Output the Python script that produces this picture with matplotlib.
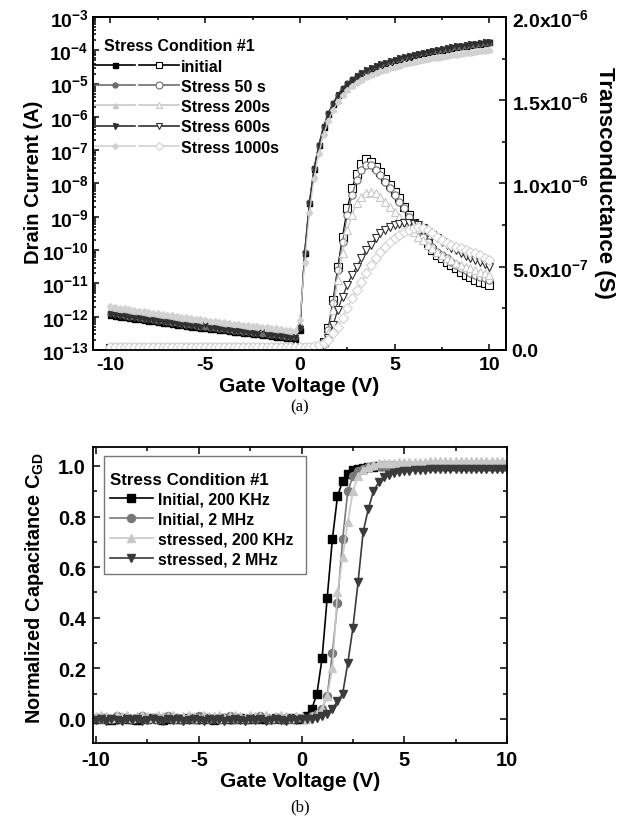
import matplotlib
matplotlib.use('Agg')
import matplotlib.pyplot as plt
import numpy as np
from matplotlib.legend_handler import HandlerTuple
from matplotlib.lines import Line2D
from matplotlib.patches import Rectangle
from matplotlib.ticker import MultipleLocator, LogLocator, FuncFormatter, NullFormatter

plt.rcParams['font.family'] = ['Liberation Sans', 'DejaVu Sans']
plt.rcParams['font.weight'] = 'bold'
plt.rcParams['mathtext.fontset'] = 'custom'
plt.rcParams['mathtext.rm'] = 'Liberation Sans:bold'
plt.rcParams['mathtext.bf'] = 'Liberation Sans:bold'
plt.rcParams['mathtext.it'] = 'Liberation Sans:bold'
plt.rcParams['mathtext.sf'] = 'Liberation Sans:bold'
plt.rcParams['mathtext.default'] = 'bf'
plt.rcParams['axes.unicode_minus'] = False

# ---------------- data ----------------
VG = [-10.0, -9.75, -9.5, -9.25, -9.0, -8.75, -8.5, -8.25, -8.0, -7.75,
      -7.5, -7.25, -7.0, -6.75, -6.5, -6.25, -6.0, -5.75, -5.5, -5.25,
      -5.0, -4.75, -4.5, -4.25, -4.0, -3.75, -3.5, -3.25, -3.0, -2.75,
      -2.5, -2.25, -2.0, -1.75, -1.5, -1.25, -1.0, -0.75, -0.5, -0.25,
      0.0, 0.25, 0.5, 0.75, 1.0, 1.25, 1.5, 1.75, 2.0, 2.25,
      2.5, 2.75, 3.0, 3.25, 3.5, 3.75, 4.0, 4.25, 4.5, 4.75,
      5.0, 5.25, 5.5, 5.75, 6.0, 6.25, 6.5, 6.75, 7.0, 7.25,
      7.5, 7.75, 8.0, 8.25, 8.5, 8.75, 9.0, 9.25, 9.5, 9.75, 10.0]

# log10 of drain current (A)
LOG_ID_INITIAL = [-11.95, -11.97, -12.00, -12.02, -12.03, -12.06, -12.08, -12.10, -12.12, -12.13,
                  -12.16, -12.18, -12.20, -12.21, -12.24, -12.25, -12.27, -12.30, -12.31, -12.33,
                  -12.35, -12.36, -12.38, -12.40, -12.41, -12.43, -12.45, -12.46, -12.48, -12.50,
                  -12.51, -12.53, -12.55, -12.56, -12.58, -12.60, -12.61, -12.63, -12.64, -12.66,
                  -12.40, -10.10, -8.60, -7.55, -6.85, -6.30, -5.90, -5.60, -5.35, -5.15,
                  -5.00, -4.88, -4.78, -4.69, -4.62, -4.55, -4.49, -4.44, -4.39, -4.34,
                  -4.30, -4.26, -4.22, -4.19, -4.15, -4.12, -4.09, -4.06, -4.03, -4.00,
                  -3.98, -3.95, -3.93, -3.90, -3.88, -3.86, -3.84, -3.82, -3.80, -3.78, -3.76]
LOG_ID_50S = [-11.90, -11.93, -11.95, -11.98, -12.00, -12.02, -12.04, -12.07, -12.08, -12.11,
              -12.13, -12.14, -12.17, -12.19, -12.20, -12.23, -12.25, -12.26, -12.28, -12.30,
              -12.31, -12.34, -12.35, -12.37, -12.38, -12.41, -12.42, -12.44, -12.45, -12.47,
              -12.49, -12.50, -12.52, -12.53, -12.55, -12.56, -12.58, -12.60, -12.61, -12.62,
              -12.30, -10.05, -8.55, -7.52, -6.83, -6.28, -5.89, -5.59, -5.34, -5.14,
              -4.99, -4.87, -4.77, -4.68, -4.61, -4.54, -4.48, -4.43, -4.38, -4.34,
              -4.30, -4.26, -4.22, -4.18, -4.15, -4.12, -4.09, -4.06, -4.03, -4.01,
              -3.98, -3.96, -3.93, -3.91, -3.89, -3.87, -3.85, -3.83, -3.81, -3.79, -3.77]
LOG_ID_200S = [-11.72, -11.75, -11.77, -11.80, -11.82, -11.84, -11.87, -11.88, -11.91, -11.93,
               -11.95, -11.97, -11.99, -12.01, -12.03, -12.05, -12.07, -12.09, -12.11, -12.13,
               -12.15, -12.16, -12.18, -12.20, -12.22, -12.23, -12.25, -12.27, -12.28, -12.30,
               -12.32, -12.33, -12.35, -12.36, -12.38, -12.40, -12.41, -12.43, -12.44, -12.46,
               -12.20, -10.30, -8.80, -7.75, -7.02, -6.46, -6.05, -5.75, -5.50, -5.30,
               -5.15, -5.03, -4.93, -4.85, -4.78, -4.71, -4.65, -4.60, -4.55, -4.51,
               -4.47, -4.43, -4.39, -4.36, -4.33, -4.30, -4.27, -4.24, -4.21, -4.19,
               -4.16, -4.14, -4.12, -4.10, -4.08, -4.06, -4.04, -4.02, -4.00, -3.98, -3.96]
LOG_ID_600S = [-11.92, -11.95, -11.97, -11.99, -12.01, -12.03, -12.05, -12.08, -12.09, -12.11,
               -12.14, -12.15, -12.17, -12.20, -12.21, -12.24, -12.25, -12.27, -12.29, -12.31,
               -12.22, -12.34, -12.35, -12.38, -12.39, -12.41, -12.43, -12.44, -12.46, -12.48,
               -12.49, -12.52, -12.36, -12.55, -12.56, -12.58, -12.59, -12.61, -12.63, -12.62,
               -12.35, -10.12, -8.62, -7.57, -6.86, -6.31, -5.91, -5.60, -5.35, -5.15,
               -5.00, -4.88, -4.77, -4.68, -4.60, -4.53, -4.47, -4.42, -4.37, -4.32,
               -4.28, -4.24, -4.20, -4.17, -4.13, -4.10, -4.07, -4.04, -4.01, -3.98,
               -3.96, -3.93, -3.91, -3.88, -3.86, -3.84, -3.82, -3.80, -3.78, -3.76, -3.74]
LOG_ID_1000S = [-11.68, -11.70, -11.73, -11.75, -11.77, -11.80, -11.82, -11.84, -11.86, -11.88,
                -11.90, -11.92, -11.94, -11.96, -11.98, -12.00, -12.02, -12.04, -12.06, -12.08,
                -12.10, -12.12, -12.13, -12.15, -12.17, -12.19, -12.21, -12.22, -12.24, -12.26,
                -12.27, -12.29, -12.31, -12.32, -12.34, -12.35, -12.37, -12.39, -12.40, -12.42,
                -12.10, -10.40, -8.90, -7.85, -7.10, -6.53, -6.12, -5.80, -5.55, -5.35,
                -5.19, -5.07, -4.97, -4.88, -4.81, -4.74, -4.68, -4.63, -4.58, -4.54,
                -4.50, -4.46, -4.42, -4.39, -4.36, -4.33, -4.30, -4.27, -4.24, -4.22,
                -4.19, -4.17, -4.15, -4.13, -4.11, -4.09, -4.07, -4.05, -4.03, -4.01, -3.99]

# transconductance in micro-siemens
GM_INITIAL = [0.01, 0.01, 0.01, 0.01, 0.01, 0.01, 0.01, 0.01, 0.01, 0.01,
              0.01, 0.01, 0.01, 0.01, 0.01, 0.01, 0.01, 0.01, 0.01, 0.01,
              0.01, 0.01, 0.01, 0.01, 0.01, 0.01, 0.01, 0.01, 0.01, 0.01,
              0.01, 0.01, 0.01, 0.01, 0.01, 0.01, 0.01, 0.01, 0.01, 0.01,
              0.01, 0.01, 0.01, 0.015,
              0.02, 0.05, 0.13, 0.30, 0.50, 0.68, 0.85, 0.97, 1.06, 1.12,
              1.15, 1.13, 1.10, 1.07, 1.03, 0.99, 0.95, 0.91, 0.86, 0.81,
              0.76, 0.72, 0.68, 0.64, 0.60, 0.57, 0.55, 0.53, 0.51, 0.49,
              0.47, 0.45, 0.44, 0.42, 0.41, 0.40, 0.39]
GM_50S = [0.012, 0.012, 0.012, 0.012, 0.012, 0.012, 0.012, 0.012, 0.012, 0.012,
          0.012, 0.012, 0.012, 0.012, 0.012, 0.012, 0.012, 0.012, 0.012, 0.012,
          0.012, 0.012, 0.012, 0.012, 0.012, 0.012, 0.012, 0.012, 0.012, 0.012,
          0.012, 0.012, 0.012, 0.012, 0.012, 0.012, 0.012, 0.012, 0.012, 0.012,
          0.012, 0.012, 0.012, 0.015,
          0.02, 0.05, 0.12, 0.28, 0.48, 0.65, 0.81, 0.93, 1.02, 1.08,
          1.11, 1.11, 1.08, 1.05, 1.01, 0.97, 0.93, 0.89, 0.85, 0.80,
          0.76, 0.72, 0.68, 0.65, 0.62, 0.59, 0.57, 0.55, 0.53, 0.51,
          0.49, 0.48, 0.46, 0.45, 0.44, 0.43, 0.42]
GM_200S = [0.015, 0.015, 0.015, 0.015, 0.015, 0.015, 0.015, 0.015, 0.015, 0.015,
           0.015, 0.015, 0.015, 0.015, 0.015, 0.015, 0.015, 0.015, 0.015, 0.015,
           0.015, 0.015, 0.015, 0.015, 0.015, 0.015, 0.015, 0.015, 0.015, 0.015,
           0.015, 0.015, 0.015, 0.015, 0.015, 0.015, 0.015, 0.015, 0.015, 0.015,
           0.015, 0.015, 0.015, 0.015,
           0.02, 0.04, 0.10, 0.24, 0.42, 0.58, 0.72, 0.81, 0.88, 0.92,
           0.94, 0.95, 0.94, 0.92, 0.89, 0.86, 0.83, 0.80, 0.77, 0.74,
           0.71, 0.68, 0.66, 0.63, 0.61, 0.59, 0.57, 0.55, 0.54, 0.52,
           0.51, 0.50, 0.49, 0.48, 0.47, 0.46, 0.45]
GM_600S = [0.012, 0.012, 0.012, 0.012, 0.012, 0.012, 0.012, 0.012, 0.012, 0.012,
           0.012, 0.012, 0.012, 0.012, 0.012, 0.012, 0.012, 0.012, 0.012, 0.012,
           0.012, 0.012, 0.012, 0.012, 0.012, 0.012, 0.012, 0.012, 0.012, 0.012,
           0.012, 0.012, 0.012, 0.012, 0.012, 0.012, 0.012, 0.012, 0.012, 0.012,
           0.012, 0.012, 0.012, 0.015,
           0.02, 0.03, 0.07, 0.15, 0.24, 0.32, 0.39, 0.45, 0.50, 0.55,
           0.60, 0.63, 0.67, 0.70, 0.72, 0.74, 0.75, 0.755, 0.76, 0.76,
           0.755, 0.75, 0.73, 0.71, 0.69, 0.67, 0.65, 0.63, 0.61, 0.60,
           0.58, 0.565, 0.555, 0.54, 0.53, 0.515, 0.50]
GM_1000S = [0.02, 0.02, 0.02, 0.02, 0.02, 0.02, 0.02, 0.02, 0.02, 0.02,
            0.02, 0.02, 0.02, 0.02, 0.02, 0.02, 0.02, 0.02, 0.02, 0.02,
            0.02, 0.02, 0.02, 0.02, 0.02, 0.02, 0.02, 0.02, 0.02, 0.02,
            0.02, 0.02, 0.02, 0.02, 0.02, 0.02, 0.02, 0.02, 0.02, 0.02,
            0.02, 0.02, 0.02, 0.025,
            0.03, 0.04, 0.06, 0.10, 0.14, 0.19, 0.25, 0.31, 0.36, 0.41,
            0.46, 0.51, 0.55, 0.59, 0.62, 0.65, 0.67, 0.69, 0.71, 0.72,
            0.73, 0.74, 0.73, 0.72, 0.70, 0.68, 0.66, 0.64, 0.63, 0.62,
            0.61, 0.60, 0.59, 0.58, 0.57, 0.555, 0.54]

TOP_LABELS = ['initial', 'Stress 50 s', 'Stress 200s', 'Stress 600s', 'Stress 1000s']

# normalized C_GD
C_INIT_200K = [0.00, 0.005, 0.00, -0.005, 0.00, 0.005, 0.00, 0.00, -0.005, 0.005,
               0.00, 0.005, 0.00, -0.005, 0.00, 0.005, 0.00, 0.00, 0.005, 0.00,
               0.00, 0.005, 0.00, -0.005, 0.00, 0.005, 0.00, 0.00, 0.005, 0.00,
               0.00, 0.005, 0.00, 0.00, 0.00, 0.005, 0.00, 0.00, 0.005, 0.00,
               0.00,
               0.01, 0.04, 0.10, 0.24, 0.48, 0.71, 0.88, 0.94, 0.97, 0.985,
               0.99, 0.993, 0.995, 0.997, 0.998, 1.0, 1.0, 1.0, 1.0, 1.0,
               1.0, 1.0, 1.0, 1.0, 1.0, 1.0, 1.0, 1.0, 1.0, 1.0,
               1.0, 1.0, 1.0, 1.0, 1.0, 1.0, 1.0, 1.0, 1.0, 1.0]
C_INIT_2M = [0.005, 0.00, 0.005, 0.00, 0.01, 0.00, 0.005, 0.00, 0.005, 0.01,
             0.00, 0.005, 0.00, 0.005, 0.01, 0.00, 0.005, 0.00, 0.005, 0.00,
             0.01, 0.005, 0.00, 0.005, 0.00, 0.005, 0.01, 0.00, 0.005, 0.00,
             0.005, 0.00, 0.01, 0.005, 0.00, 0.005, 0.00, 0.005, 0.00, 0.005,
             0.005,
             0.00, 0.01, 0.02, 0.04, 0.09, 0.26, 0.46, 0.71, 0.90, 0.96,
             0.98, 0.99, 0.995, 1.0, 1.0, 1.0, 1.0, 1.0, 1.0, 1.0,
             1.0, 1.0, 1.0, 1.0, 1.0, 1.0, 1.0, 1.0, 1.0, 1.0,
             1.0, 1.0, 1.0, 1.0, 1.0, 1.0, 1.0, 1.0, 1.0, 1.0]
C_STR_200K = [0.01, 0.015, 0.01, 0.005, 0.015, 0.01, 0.015, 0.005, 0.01, 0.015,
              0.01, 0.005, 0.015, 0.01, 0.01, 0.015, 0.005, 0.01, 0.015, 0.01,
              0.005, 0.015, 0.01, 0.01, 0.015, 0.005, 0.01, 0.015, 0.01, 0.005,
              0.015, 0.01, 0.01, 0.015, 0.005, 0.01, 0.015, 0.01, 0.005, 0.01,
              0.01,
              0.00, 0.01, 0.02, 0.04, 0.09, 0.20, 0.50, 0.64, 0.78, 0.90,
              0.96, 0.985, 0.995, 1.005, 1.01, 1.01, 1.012, 1.012, 1.015, 1.015,
              1.015, 1.015, 1.015, 1.015, 1.018, 1.018, 1.018, 1.018, 1.018, 1.018,
              1.02, 1.02, 1.02, 1.02, 1.02, 1.02, 1.02, 1.02, 1.02, 1.02]
C_STR_2M = [-0.005, 0.00, -0.01, 0.00, -0.005, -0.01, 0.00, -0.005, 0.00, -0.01,
            -0.005, 0.00, -0.005, -0.01, 0.00, -0.005, 0.00, -0.01, -0.005, 0.00,
            -0.005, -0.01, 0.00, -0.005, 0.00, -0.01, -0.005, 0.00, -0.005, -0.01,
            0.00, -0.005, 0.00, -0.01, -0.005, 0.00, -0.005, -0.01, 0.00, -0.005,
            0.00,
            0.00, 0.00, 0.005, 0.01, 0.02, 0.04, 0.07, 0.10, 0.22, 0.36,
            0.54, 0.74, 0.83, 0.90, 0.935, 0.955, 0.965, 0.972, 0.977, 0.98,
            0.982, 0.984, 0.985, 0.986, 0.987, 0.988, 0.988, 0.989, 0.989, 0.99,
            0.99, 0.99, 0.99, 0.99, 0.99, 0.99, 0.99, 0.99, 0.99, 0.99]
BOT_LABELS = ['Initial, 200 KHz', 'Initial, 2 MHz', 'stressed, 200 KHz', 'stressed, 2 MHz']

# ---------------- styles ----------------
TOP_COLORS = ['#000000', '#6e6e6e', '#c8c8c8', '#303030', '#d2d2d2']
TOP_MARKERS = ['s', 'o', '^', 'v', 'D']
BOT_COLORS = ['#000000', '#787878', '#c8c8c8', '#3a3a3a']
BOT_MARKERS = ['s', 'o', '^', 'v']

W, H = 633, 820
fig = plt.figure(figsize=(W / 100, H / 100), dpi=100)

def fx(px):
    return px / W

def fy(py):
    return 1 - py / H

# ---------- top panel ----------
axL, axR, axT, axB = 93, 506, 18, 351
ax = fig.add_axes([fx(axL), fy(axB), fx(axR - axL), (axB - axT) / H])
ax2 = ax.twinx()

vg = np.array(VG)
id_sets = [LOG_ID_INITIAL, LOG_ID_50S, LOG_ID_200S, LOG_ID_600S, LOG_ID_1000S]
gm_sets = [GM_INITIAL, GM_50S, GM_200S, GM_600S, GM_1000S]
handles = []
for lid, gm, c, m in zip(id_sets, gm_sets, TOP_COLORS, TOP_MARKERS):
    msz = 3.6 if m != 'D' else 3.0
    ax.plot(vg, 10 ** np.array(lid), color=c, marker=m, ms=msz, mfc=c, mec=c, lw=0.9)
    ax2.plot(vg, np.array(gm) * 1e-6, color=c, marker=m, ms=msz + 1.6, mfc='white',
             mec=c, mew=0.8, lw=0.9)
    h1 = Line2D([], [], color=c, marker=m, ms=msz, mfc=c, mec=c, lw=1.2)
    h2 = Line2D([], [], color=c, marker=m, ms=msz + 1.4, mfc='white', mec=c, mew=0.8, lw=1.2)
    handles.append((h1, h2))

ax.set_yscale('log')
ax.set_ylim(1e-13, 1e-3)
ax.set_xlim(-10.92, 10.88)
ax.xaxis.set_major_locator(MultipleLocator(5))
ax.xaxis.set_minor_locator(MultipleLocator(2.5))
ax.yaxis.set_major_locator(LogLocator(base=10, numticks=20))
ax.yaxis.set_minor_locator(LogLocator(base=10, subs=np.arange(2, 10), numticks=20))
ax.yaxis.set_minor_formatter(NullFormatter())
ax.tick_params(which='both', direction='in', top=True, right=False, labelsize=14, width=1.1)
ax.tick_params(which='major', length=4.5, pad=4)
ax.tick_params(which='minor', length=2.5)
ax.tick_params(axis='y', pad=3)

ax2.set_ylim(0, 2e-6)
ax2.yaxis.set_major_locator(MultipleLocator(0.5e-6))
ax2.yaxis.set_minor_locator(MultipleLocator(0.25e-6))

def gm_fmt(v, pos):
    if abs(v) < 1e-12:
        return '0.0'
    e = int(np.floor(np.log10(abs(v)) + 1e-9))
    mant = v / 10 ** e
    return r'$%.1f\mathrm{x}10^{%d}$' % (mant, e)

ax2.yaxis.set_major_formatter(FuncFormatter(gm_fmt))
ax2.tick_params(which='both', direction='in', labelsize=14, width=1.1, pad=4)
ax2.tick_params(which='major', length=5)
ax2.tick_params(which='minor', length=3)

for a in (ax, ax2):
    for s in a.spines.values():
        s.set_linewidth(1.3)

ax.set_xlabel('Gate Voltage (V)', fontsize=15, fontweight='bold', va='center')
ax.xaxis.set_label_coords(0.5, (axB - 387) / (axB - axT))
ax.set_ylabel('Drain Current (A)', fontsize=14.5, fontweight='bold', va='center')
ax.yaxis.set_label_coords((34 - axL) / (axR - axL), (axB - 182) / (axB - axT))
ax2.set_ylabel('Transconductance (S)', fontsize=16, fontweight='bold', rotation=270, va='center')
ax2.yaxis.set_label_coords((605 - axL) / (axR - axL), (axB - 183) / (axB - axT))

leg = ax.legend(handles, TOP_LABELS, handler_map={tuple: HandlerTuple(ndivide=None, pad=0.3)},
                loc='upper left', bbox_to_anchor=(0.0, 0.941), borderaxespad=0.0,
                borderpad=0.1, frameon=False, handlelength=5.3, handletextpad=0.1,
                labelspacing=0.33, title='  Stress Condition #1', alignment='left',
                prop={'weight': 'bold', 'size': 11.5},
                title_fontproperties={'weight': 'bold', 'size': 11.5})

fig.text(fx(300), fy(407), '(a)', family='Liberation Serif', fontweight='normal',
         fontsize=12, ha='center', va='center')

# ---------- bottom panel ----------
bL, bR, bT, bB = 93, 507, 448, 744
bx = fig.add_axes([fx(bL), fy(bB), fx(bR - bL), (bB - bT) / H])
c_sets = [C_INIT_200K, C_INIT_2M, C_STR_200K, C_STR_2M]
for cv, c, m, lab in zip(c_sets, BOT_COLORS, BOT_MARKERS, BOT_LABELS):
    bx.plot(vg, cv, color=c, marker=m, ms=5.8, mfc=c, mec=c, lw=1.2, label=lab)

bx.set_xlim(-10.15, 10.0)
bx.set_ylim(-0.095, 1.075)
bx.xaxis.set_major_locator(MultipleLocator(5))
bx.xaxis.set_minor_locator(MultipleLocator(2.5))
bx.yaxis.set_major_locator(MultipleLocator(0.2))
bx.yaxis.set_minor_locator(MultipleLocator(0.1))
bx.yaxis.set_major_formatter(FuncFormatter(lambda v, p: '%.1f' % v))
bx.tick_params(which='both', direction='in', top=True, right=True, labelsize=14.5, width=1.1)
bx.tick_params(which='major', length=5, pad=5)
bx.tick_params(which='minor', length=3)
for s in bx.spines.values():
    s.set_linewidth(1.3)

bx.set_xlabel('Gate Voltage (V)', fontsize=15, fontweight='bold', va='center')
bx.xaxis.set_label_coords(0.5, (bB - 782) / (bB - bT))
bx.set_ylabel(r'Normalized Capacitance C$_{GD}$', fontsize=14.3, fontweight='bold', va='center')
bx.yaxis.set_label_coords((34 - bL) / (bR - bL), (bB - 588) / (bB - bT))

# legend frame drawn explicitly
frame = Rectangle((fx(104), fy(575)), fx(306 - 104), (575 - 457) / H, transform=fig.transFigure,
                  facecolor='white', edgecolor='#777777', linewidth=1.0, zorder=4.5,
                  clip_on=False)
bx.add_patch(frame)
leg2 = bx.legend(loc='upper left', bbox_to_anchor=(fx(110), fy(473)),
                 bbox_transform=fig.transFigure,
                 borderaxespad=0, frameon=False, handlelength=2.7,
                 handletextpad=0.3, labelspacing=0.31, borderpad=0.0,
                 title='Stress Condition #1', alignment='left',
                 prop={'weight': 'bold', 'size': 11.4},
                 title_fontproperties={'weight': 'bold', 'size': 12.2})
leg2.set_zorder(5)

fig.text(fx(300), fy(807), '(b)', family='Liberation Serif', fontweight='normal',
         fontsize=12, ha='center', va='center')

fig.savefig('out.png', dpi=100)
